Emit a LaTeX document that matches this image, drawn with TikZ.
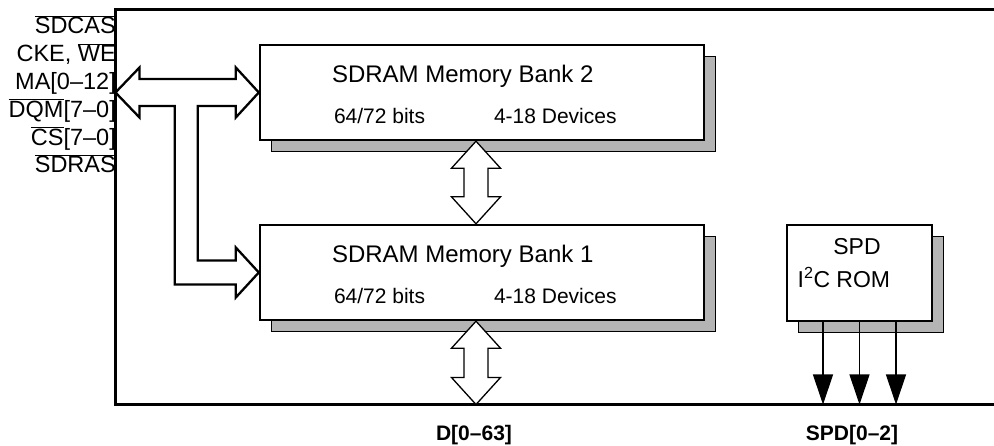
\documentclass[tikz,border=0pt]{standalone}
\usepackage{fontspec}
\setmainfont{Liberation Sans}
\usetikzlibrary{calc,shadows,arrows.meta}
\definecolor{shadegray}{RGB}{180,180,180}
\newcommand{\ovl}[1]{$\overline{\mbox{#1}}$}

\begin{document}
\begin{tikzpicture}[x=1pt, y=-1pt, line join=miter,
    pinlabel/.style={anchor=base east, inner sep=0pt, font=\fontsize{23.5pt}{28pt}\selectfont},
    banktitle/.style={anchor=base west, inner sep=0pt, font=\fontsize{24pt}{28pt}\selectfont},
    banknote/.style={anchor=base west, inner sep=0pt, font=\fontsize{21pt}{25pt}\selectfont},
    boxtext/.style={inner sep=0pt, font=\fontsize{23pt}{28pt}\selectfont},
    buslabel/.style={anchor=base, inner sep=0pt, font=\fontsize{21pt}{24pt}\selectfont\bfseries},
    frame/.style={draw, line width=2.4pt},
    bankbox/.style={draw, line width=2.4pt, fill=white, minimum width=444pt, minimum height=95pt,
      drop shadow={shadow xshift=11pt, shadow yshift=-12pt, fill=shadegray, draw=black, line width=1pt, opacity=1}},
    spdbox/.style={draw, line width=1.1pt, fill=white, minimum width=145pt, minimum height=96pt,
      drop shadow={shadow xshift=11pt, shadow yshift=-12pt, fill=shadegray, draw=black, line width=1pt, opacity=1}},
    bus/.style={draw, fill=white, line width=2.3pt},
    vbus/.style={draw, fill=white, line width=1.3pt},
    sig/.style={draw, line width=1.1pt, -{Triangle[length=30pt,width=20pt]}}]
  \useasboundingbox (0,0) rectangle (994,446);

  % control signals on the left edge
  \foreach \txt [count=\i] in {\ovl{SDCAS}, {CKE, \ovl{WE}}, {MA[0–12]}, {\ovl{DQM}[7–0]}, {\ovl{CS}[7–0]}, \ovl{SDRAS}}
    \node[pinlabel] (pin\i) at (116, {34+27.8*(\i-1)}) {\txt};

  % module outline
  \coordinate (ftl) at (115.5,9.5);
  \coordinate (ftr) at (994,9.5);
  \coordinate (fbl) at (115.5,404.5);
  \coordinate (fbr) at (994,404.5);
  \draw[frame] (ftr) -- (ftl) -- (fbl) -- (fbr);

  % memory banks
  \node[bankbox] (bank2) at (482,92.5) {};
  \node[bankbox] (bank1) at (482,272.5) {};
  \foreach \b/\n in {bank2/2, bank1/1}{
    \node[banktitle] at ($(\b.north west)+(73,39)$) {SDRAM Memory Bank \n};
    \node[banknote] at ($(\b.north west)+(75,80)$) {64/72 bits};
    \node[banknote] at ($(\b.north west)+(235,80)$) {4-18 Devices};
  }

  % serial presence detect
  \node[spdbox] (spd) at (859.5,273) {};
  \node[boxtext, anchor=base] at ($(spd.north)+(-2.5,30)$) {SPD};
  \node[boxtext, anchor=base west] at ($(spd.north west)+(11,63)$) {I\textsuperscript{2}C ROM};

  % bottom labels
  \node[buslabel] (dlabel) at (474,441) {D[0–63]};
  \node[buslabel] (spdlabel) at (852,441) {SPD[0–2]};

  % address / control bus
  \draw[bus] let \p1=(bank2.west), \p2=(bank1.west), \p3=(fbl) in
    (\x3,\y1) -- (\x3+24pt,\y1+25pt) -- (\x3+24pt,\y1+13.5pt) -- (\x1-23pt,\y1+13.5pt)
    -- (\x1-23pt,\y1+25pt) -- (\x1,\y1) -- (\x1-23pt,\y1-25pt) -- (\x1-23pt,\y1-13.5pt)
    -- (\x1-61pt,\y1-13.5pt) -- (\x1-61pt,\y2+12pt) -- (\x1-23pt,\y2+12pt) -- (\x1-23pt,\y2+25pt)
    -- (\x2,\y2) -- (\x1-23pt,\y2-25pt) -- (\x1-23pt,\y2-12pt) -- (\x1-84pt,\y2-12pt)
    -- (\x1-84pt,\y1-13.5pt) -- (\x3+24pt,\y1-13.5pt) -- (\x3+24pt,\y1-25pt) -- cycle;

  % data bus
  \coordinate (dcol) at (476,0);
  \foreach \a/\b in {bank2.south/bank1.north, bank1.south/fbl}
    \draw[vbus] let \p1=(\a -| dcol), \p2=(\b -| dcol) in
      (\x1,\y1) -- ++(24.5,27) -- ++(-12.5,0) -- (\x1+12pt,\y2+27pt) -- ++(12.5,0)
      -- (\x2,\y2) -- ++(-24.5,-27) -- ++(12.5,0) -- (\x1-12pt,\y1-27pt) -- ++(-12.5,0) -- cycle;

  % SPD outputs
  \foreach \dx in {-36.5,0,36.5}{
    \coordinate (s) at ($(spd.south)+(\dx,0)$);
    \draw[sig] (s) -- (s |- fbl);
  }
\end{tikzpicture}
\end{document}
